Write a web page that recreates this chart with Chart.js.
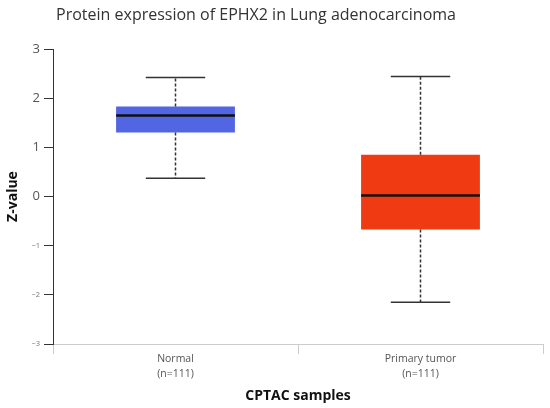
<!DOCTYPE html>
<html lang="en">
<head>
    <meta charset="UTF-8">
    <title>Protein expression of EPHX2 in Lung adenocarcinoma</title>
    <script src="https://cdn.jsdelivr.net/npm/chart.js"></script>
    <style>
        body, html {
            margin: 0;
            padding: 0;
            background: #ffffff;
        }
        .chart-box {
            position: relative;
            width: 550px;
            height: 408px;
        }
    </style>
</head>
<body>
    <div class="chart-box">
        <canvas id="boxChart"></canvas>
    </div>

    <script>
        // values
        const chartTitle = 'Protein expression of EPHX2 in Lung adenocarcinoma';
        const categories = [['Normal', '(n=111)'], ['Primary tumor', '(n=111)']];
        const whiskerLow = [0.37, -2.15];
        const q1 = [1.30, -0.67];
        const median = [1.65, 0.02];
        const q3 = [1.83, 0.85];
        const whiskerHigh = [2.42, 2.44];
        const boxColors = ['#5265e2', '#f03a12'];
        const yTicks = [-3, -2, -1, 0, 1, 2, 3];

        // whiskers, caps and median line drawn from the bar elements + y scale
        const boxParts = {
            id: 'boxParts',
            afterDatasetsDraw(chart) {
                const ctx = chart.ctx;
                const y = chart.scales.y;
                const meta = chart.getDatasetMeta(0);
                meta.data.forEach((bar, i) => {
                    const x = bar.x;
                    const half = bar.width / 2;
                    const cap = bar.width / 4;
                    ctx.save();
                    ctx.strokeStyle = '#333333';
                    ctx.lineWidth = 1.5;
                    ctx.setLineDash([3, 2]);
                    ctx.beginPath();
                    ctx.moveTo(x, y.getPixelForValue(q3[i]));
                    ctx.lineTo(x, y.getPixelForValue(whiskerHigh[i]));
                    ctx.moveTo(x, y.getPixelForValue(q1[i]));
                    ctx.lineTo(x, y.getPixelForValue(whiskerLow[i]));
                    ctx.stroke();
                    ctx.setLineDash([]);
                    ctx.beginPath();
                    ctx.moveTo(x - cap, y.getPixelForValue(whiskerHigh[i]));
                    ctx.lineTo(x + cap, y.getPixelForValue(whiskerHigh[i]));
                    ctx.moveTo(x - cap, y.getPixelForValue(whiskerLow[i]));
                    ctx.lineTo(x + cap, y.getPixelForValue(whiskerLow[i]));
                    ctx.stroke();
                    ctx.strokeStyle = '#111111';
                    ctx.lineWidth = 2.5;
                    ctx.beginPath();
                    ctx.moveTo(x - half, y.getPixelForValue(median[i]));
                    ctx.lineTo(x + half, y.getPixelForValue(median[i]));
                    ctx.stroke();
                    ctx.restore();
                });
            },
            afterDraw(chart) {
                const ctx = chart.ctx;
                ctx.save();
                ctx.font = '16px "Open Sans"';
                ctx.fillStyle = '#333333';
                ctx.textAlign = 'center';
                ctx.textBaseline = 'middle';
                ctx.fillText(chartTitle, 256, 15);
                ctx.restore();
            }
        };

        const boxChart = new Chart(document.getElementById('boxChart'), {
            type: 'bar',
            data: {
                labels: categories,
                datasets: [{
                    data: q1.map((v, i) => [v, q3[i]]),
                    backgroundColor: boxColors,
                    borderWidth: 0,
                    categoryPercentage: 1,
                    barPercentage: 0.485
                }]
            },
            options: {
                responsive: true,
                maintainAspectRatio: false,
                animation: false,
                layout: {
                    padding: { top: 49, right: 7, left: 0, bottom: 0 }
                },
                plugins: {
                    legend: { display: false },
                    tooltip: { enabled: false }
                },
                scales: {
                    x: {
                        afterFit(scale) { scale.height = 64; },
                        border: { color: '#cccccc' },
                        grid: {
                            offset: true,
                            drawOnChartArea: false,
                            tickLength: 10,
                            color: '#cccccc'
                        },
                        ticks: {
                            color: '#555555',
                            padding: -2,
                            font: { family: 'Open Sans', size: 10.5, lineHeight: 1.4 }
                        },
                        title: {
                            display: true,
                            text: 'CPTAC samples',
                            color: '#111111',
                            padding: 4,
                            font: { family: 'Open Sans', size: 14, weight: 'bold' }
                        }
                    },
                    y: {
                        min: -3,
                        max: 3,
                        afterFit(scale) { scale.width = 53; },
                        afterBuildTicks(scale) {
                            scale.ticks = yTicks.map(v => ({ value: v }));
                        },
                        border: { color: '#333333' },
                        grid: {
                            drawOnChartArea: false,
                            tickLength: 9,
                            color: '#333333'
                        },
                        ticks: {
                            padding: 4,
                            color: ctx => ctx.tick.value < 0 ? '#777777' : '#555555',
                            font: ctx => ({
                                family: 'Open Sans',
                                size: ctx.tick && ctx.tick.value < 0 ? 7.5 : 13
                            }),
                            callback: v => v < 0 ? '\u2212' + Math.abs(v) : String(v)
                        },
                        title: {
                            display: true,
                            text: 'Z-value',
                            color: '#111111',
                            padding: { top: 5, bottom: 0 },
                            font: { family: 'Open Sans', size: 14, weight: 'bold' }
                        }
                    }
                }
            },
            plugins: [boxParts]
        });
    </script>
</body>
</html>
